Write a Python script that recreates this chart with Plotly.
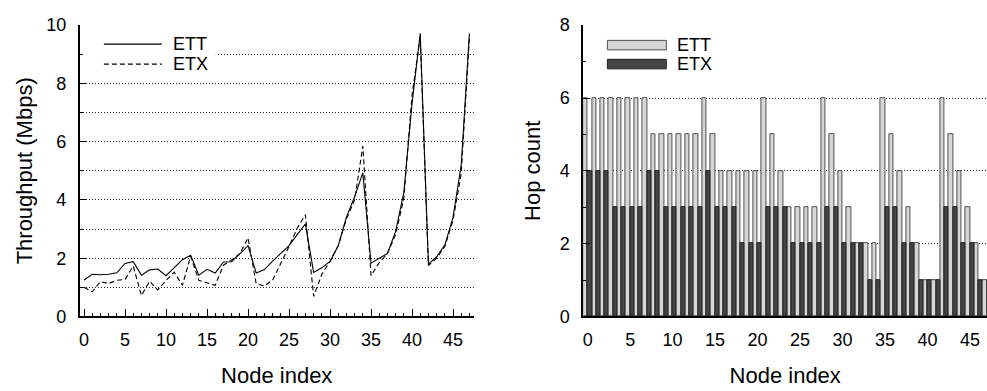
import plotly.graph_objects as go

nodes = list(range(48))

ett_throughput = [1.25, 1.45, 1.43, 1.45, 1.50, 1.82, 1.88, 1.42, 1.60, 1.63,
                  1.40, 1.67, 1.95, 2.10, 1.42, 1.62, 1.49, 1.87, 1.88, 2.15,
                  2.43, 1.49, 1.61, 1.90, 2.18, 2.43, 2.81, 3.18, 1.51, 1.67,
                  1.89, 2.43, 3.41, 4.11, 4.93, 1.83, 2.00, 2.16, 2.92, 4.25,
                  7.30, 9.72, 1.80, 2.05, 2.45, 3.40, 5.20, 9.72]
etx_throughput = [1.00, 0.85, 1.20, 1.13, 1.24, 1.27, 1.73, 0.72, 1.21, 0.91,
                  1.24, 1.52, 1.07, 2.07, 1.24, 1.15, 1.07, 1.76, 1.94, 2.16,
                  2.70, 1.12, 1.05, 1.25, 1.80, 2.40, 3.03, 3.49, 0.69, 1.45,
                  1.89, 2.43, 3.35, 4.00, 5.85, 1.40, 1.85, 2.16, 2.81, 4.05,
                  7.60, 9.60, 1.75, 2.00, 2.40, 3.30, 4.90, 9.60]

ett_hops = [6, 6, 6, 6, 6, 6, 6, 6, 5, 5,
            5, 5, 5, 5, 6, 5, 4, 4, 4, 4,
            4, 6, 5, 4, 3, 3, 3, 3, 6, 5,
            4, 3, 2, 2, 2, 6, 5, 4, 3, 2,
            1, 1, 6, 5, 4, 3, 2, 1]
etx_hops = [4, 4, 4, 3, 3, 3, 3, 4, 4, 3,
            3, 3, 3, 3, 4, 3, 3, 3, 2, 2,
            2, 3, 3, 3, 2, 2, 2, 2, 3, 3,
            2, 2, 2, 1, 1, 3, 3, 2, 2, 1,
            1, 1, 3, 3, 2, 2, 1, 1]

x_ticks = [0, 5, 10, 15, 20, 25, 30, 35, 40, 45]
series_names = ["ETT", "ETX"]

W, H = 987, 391
FONT = "Liberation Sans"


def px(x):
    return x / W


def py(y):
    return 1 - y / H


fig = go.Figure()

fig.add_trace(go.Scatter(x=nodes, y=ett_throughput, mode="lines", name=series_names[0],
                         line=dict(color="black", width=1.1), xaxis="x", yaxis="y",
                         showlegend=False))
fig.add_trace(go.Scatter(x=nodes, y=etx_throughput, mode="lines", name=series_names[1],
                         line=dict(color="black", width=1.1, dash="5px,3px"),
                         xaxis="x", yaxis="y", showlegend=False))

fig.add_trace(go.Bar(x=nodes, y=ett_hops, name=series_names[0], xaxis="x2", yaxis="y2",
                     marker=dict(color="#d6d6d6", line=dict(color="#505050", width=1)),
                     showlegend=False))
fig.add_trace(go.Bar(x=nodes, y=etx_hops, name=series_names[1], xaxis="x2", yaxis="y2",
                     marker=dict(color="#454545", line=dict(color="#1e1e1e", width=1)),
                     showlegend=False))

tickfont = dict(family=FONT, size=18, color="black")
titlefont = dict(family=FONT, size=22, color="black")
grid_dash = "1px,2px"
grid_color = "#222222"

common_x = dict(showline=True, linecolor="black", linewidth=2, zeroline=False,
                showgrid=False, tickfont=tickfont, ticklabelstandoff=6)

fig.update_layout(
    width=W, height=H,
    margin=dict(l=0, r=0, t=0, b=0),
    paper_bgcolor="white", plot_bgcolor="white",
    barmode="group", bargap=0, bargroupgap=0,
    showlegend=False,
    xaxis=dict(domain=[px(79), px(473)], range=[-0.5, 47.5], anchor="y",
               tickmode="array", tickvals=x_ticks,
               ticks="inside", ticklen=7, tickwidth=1, tickcolor="black",
               minor=dict(dtick=1, tick0=0, ticks="inside", ticklen=3, tickwidth=1,
                          tickcolor="black", showgrid=False),
               title=dict(text="Node index", font=titlefont, standoff=19),
               **common_x),
    yaxis=dict(domain=[py(323), py(16)], range=[0, 10], anchor="x",
               tickmode="linear", tick0=0, dtick=2,
               ticks="inside", ticklen=7, tickwidth=1, tickcolor="black",
               showline=True, linecolor="black", linewidth=2, zeroline=False,
               showgrid=True, gridcolor=grid_color, gridwidth=1, griddash=grid_dash,
               minor=dict(dtick=1, tick0=0, ticks="inside", ticklen=3, tickwidth=1,
                          tickcolor="black", showgrid=True, gridcolor=grid_color,
                          gridwidth=1, griddash=grid_dash),
               tickfont=tickfont, ticklabelstandoff=8,
               title=dict(text="Throughput (Mbps)", font=titlefont, standoff=8)),
    xaxis2=dict(domain=[px(583), 1.0], range=[-0.5, 47.0], anchor="y2",
                tickmode="array", tickvals=x_ticks, ticks="",
                title=dict(text="Node index", font=titlefont, standoff=19),
                **common_x),
    yaxis2=dict(domain=[py(323), py(16)], range=[0, 8], anchor="x2",
                tickmode="linear", tick0=0, dtick=2,
                ticks="inside", ticklen=7, tickwidth=1, tickcolor="black",
                showline=True, linecolor="black", linewidth=2, zeroline=False,
                showgrid=True, gridcolor=grid_color, gridwidth=1, griddash=grid_dash,
                minor=dict(dtick=1, tick0=0, ticks="inside", ticklen=3, tickwidth=1,
                           tickcolor="black", showgrid=False),
                tickfont=tickfont, ticklabelstandoff=8,
                title=dict(text="Hop count", font=titlefont, standoff=13)),
)

# Custom legends (wide symbols as in the reference)
shapes = [
    dict(type="rect", xref="paper", yref="paper", layer="above",
         x0=px(82), x1=px(215), y0=py(70), y1=py(22),
         fillcolor="white", line=dict(width=0)),
    dict(type="line", xref="paper", yref="paper", layer="above",
         x0=px(103), x1=px(161), y0=py(36), y1=py(36),
         line=dict(color="black", width=1.1)),
    dict(type="line", xref="paper", yref="paper", layer="above",
         x0=px(103), x1=px(161), y0=py(57), y1=py(57),
         line=dict(color="black", width=1.1, dash="5px,3px")),
    dict(type="rect", xref="paper", yref="paper", layer="above",
         x0=px(607), x1=px(666), y0=py(42), y1=py(32),
         fillcolor="#d6d6d6", line=dict(color="#505050", width=1)),
    dict(type="rect", xref="paper", yref="paper", layer="above",
         x0=px(607), x1=px(666), y0=py(62), y1=py(52),
         fillcolor="#454545", line=dict(color="#1e1e1e", width=1)),
]
fig.update_layout(shapes=shapes)

legend_font = dict(family=FONT, size=18, color="black")
annotations = [
    dict(x=px(170), y=py(36), text=series_names[0]),
    dict(x=px(170), y=py(57), text=series_names[1]),
    dict(x=px(675), y=py(37), text=series_names[0]),
    dict(x=px(675), y=py(57), text=series_names[1]),
]
for a in annotations:
    a.update(xref="paper", yref="paper", xanchor="left", yanchor="middle",
             showarrow=False, font=legend_font)
fig.update_layout(annotations=annotations)

fig.write_html("out.html")
